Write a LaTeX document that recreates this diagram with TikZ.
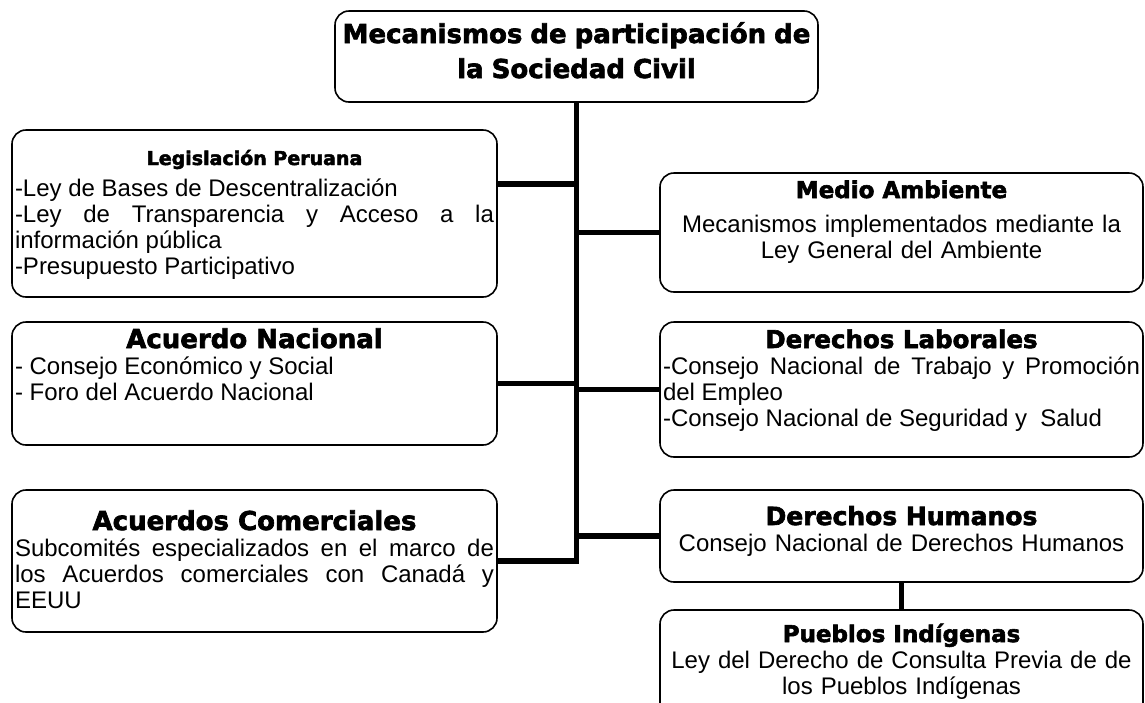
\documentclass[tikz,border=0pt]{standalone}
\usepackage{fontspec}
\setmainfont{Liberation Sans}
\newfontfamily\titlefont{DejaVu Sans Bold}[FakeBold=2.5]
\usetikzlibrary{positioning,calc}

\newcommand\cabecera[2]{{\centering\spaceskip=0pt\fontsize{#1}{#1}\selectfont\titlefont #2\par}}

\begin{document}
\begin{tikzpicture}[x=1pt,y=-1pt,
    caja/.style={draw, line width=1.6pt, rounded corners=14pt, anchor=north west,
      inner xsep=3pt, inner ysep=0pt, outer sep=0pt, font=\fontsize{24}{26}\selectfont},
    izq/.style={caja, text width=479pt},
    der/.style={caja, text width=477pt},
    just/.style={align=justify,
      execute at begin node={\hyphenpenalty=10000 \spaceskip=6.67pt plus 8pt\relax}},
    centro/.style={align=center, execute at begin node={\centering}},
    linea/.style={line width=5.5pt}]
    \useasboundingbox (0,0) rectangle (1145,702);
    \clip (0,0) rectangle (1145,702);

    % Title
    \node[der, centro, text height=32pt, text depth=59pt] (titulo) at (335,11)
      {\fontsize{26}{35}\selectfont\titlefont Mecanismos de participación de\\la Sociedad Civil\par};

    % Left column
    \node[izq, just, text height=35pt, text depth=132pt] (legis) at (12,130)
      {\cabecera{19}{Legislación Peruana}\vspace{5pt}
       -Ley de Bases de Descentralización\par
       -Ley de Transparencia y Acceso a la información pública\par
       -Presupuesto Participativo};
    \node[izq, just, text height=26pt, text depth=97pt] (nacional) at (12,322)
      {\cabecera{26}{Acuerdo Nacional}
       - Consejo Económico y Social\par
       - Foro del Acuerdo Nacional};
    \node[izq, just, text height=40pt, text depth=102pt] (comerciales) at (12,490)
      {\cabecera{26}{Acuerdos Comerciales}
       Subcomités especializados en el marco de los Acuerdos comerciales con Canadá y EEUU};

    % Right column
    \node[der, centro, text height=25pt, text depth=94pt] (medio) at (660,173)
      {\cabecera{23}{Medio Ambiente}\vspace{8pt}
       Mecanismos implementados mediante la\\Ley General del Ambiente};
    \node[der, just, text height=26pt, text depth=109pt] (laborales) at (660,322)
      {\cabecera{24.5}{Derechos Laborales}
       -Consejo Nacional de Trabajo y Promoción del Empleo\par
       -Consejo Nacional de Seguridad y~ Salud};
    \node[der, centro, text height=35pt, text depth=57pt] (humanos) at (660,490)
      {\cabecera{25}{Derechos Humanos}
       Consejo Nacional de Derechos Humanos};
    \node[der, centro, text height=32pt, text depth=80pt] (pueblos) at (660,610)
      {\cabecera{23}{Pueblos Indígenas}
       Ley del Derecho de Consulta Previa de de\\los Pueblos Indígenas};

    % Trunk and branches
    \draw[linea] (titulo.south) |- (comerciales.east);
    \coordinate (legisE) at ([yshift=29.5pt]legis.east);
    \draw[linea] (legisE) -- (legisE -| titulo.south);
    \draw[linea] (nacional.east) -- (nacional.east -| titulo.south);
    \foreach \n in {medio,laborales,humanos}
      \draw[linea] (\n.west) -- (\n.west -| titulo.south);
    \draw[linea] (humanos) -- (pueblos);
\end{tikzpicture}
\end{document}
